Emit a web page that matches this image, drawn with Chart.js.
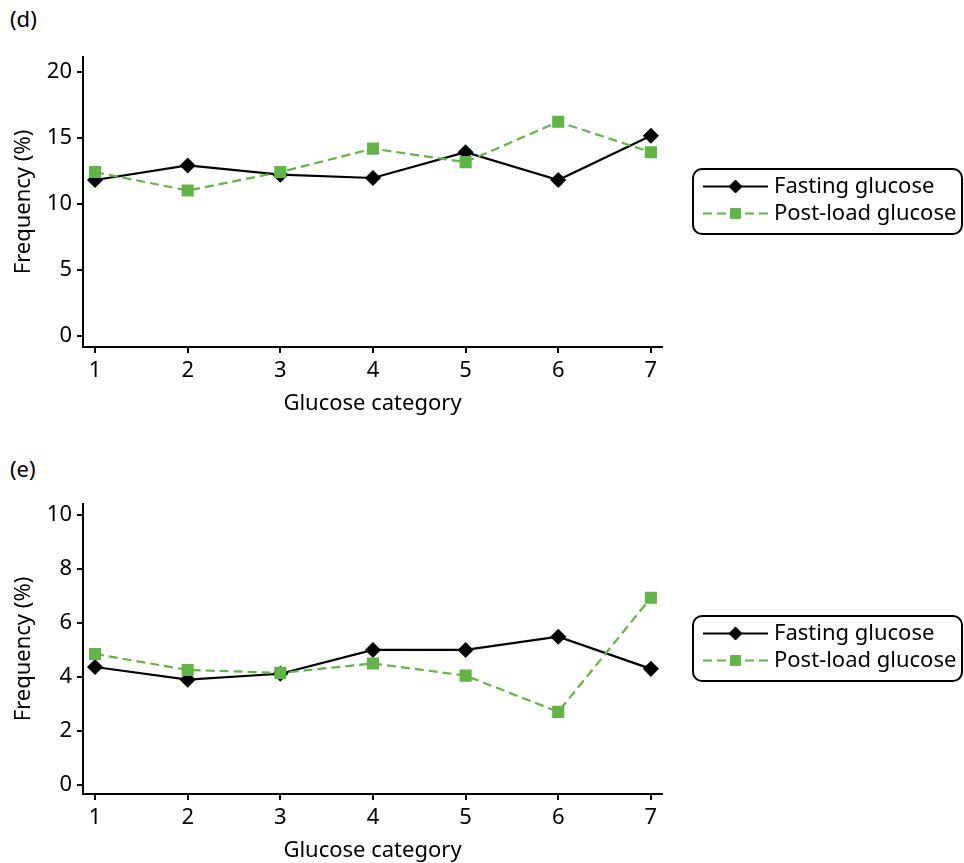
<!DOCTYPE html>
<html>
<head>
<meta charset="utf-8">
<script src="https://cdn.jsdelivr.net/npm/chart.js@4/dist/chart.umd.min.js"></script>
<style>
  html, body { margin: 0; padding: 0; background: #fff; }
  body { width: 964px; height: 863px; position: relative; overflow: hidden; font-family: 'Noto Sans', sans-serif; }
  .panel-label { position: absolute; left: 10px; font-size: 22px; line-height: 26px; color: #000; }
  .chart-box { position: absolute; left: 0; width: 964px; height: 416px; }
</style>
</head>
<body>
<div class="panel-label" style="top:5px">(d)</div>
<div class="panel-label" style="top:455px">(e)</div>
<div class="chart-box" style="top:0"><canvas id="chartD"></canvas></div>
<div class="chart-box" style="top:447px"><canvas id="chartE"></canvas></div>

<script>
// ---- data ----
const categories = [1, 2, 3, 4, 5, 6, 7];
const seriesNames = ['Fasting glucose', 'Post-load glucose'];

const fastingD  = [11.8, 12.9, 12.2, 11.95, 13.9, 11.8, 15.15];
const postLoadD = [12.4, 11.0, 12.4, 14.17, 13.15, 16.2, 13.9];
const yTicksD   = [0, 5, 10, 15, 20];

const fastingE  = [4.37, 3.9, 4.12, 5.0, 5.0, 5.49, 4.3];
const postLoadE = [4.85, 4.26, 4.15, 4.5, 4.05, 2.71, 6.93];
const yTicksE   = [0, 2, 4, 6, 8, 10];

const green = '#62b446';
const black = '#000000';

Chart.defaults.font.family = "'Noto Sans', sans-serif";
Chart.defaults.font.size = 22;
Chart.defaults.color = '#000';

const toPoints = (vals) => categories.map((c, i) => ({ x: c, y: vals[i] }));

// legend drawn inside a rounded box, right of the plot
const boxLegend = {
    id: 'boxLegend',
    afterDraw(chart, args, opts) {
        const ctx = chart.ctx;
        const { x, y, w, h, r, rowY, lineX0, lineX1, textX } = opts;
        ctx.save();
        ctx.lineWidth = 2;
        ctx.strokeStyle = '#000';
        ctx.beginPath();
        ctx.roundRect(x, y, w, h, r);
        ctx.stroke();
        chart.data.datasets.forEach((ds, i) => {
            const ry = rowY[i];
            ctx.save();
            ctx.strokeStyle = ds.borderColor;
            ctx.lineWidth = ds.borderWidth;
            ctx.setLineDash(ds.borderDash || []);
            ctx.beginPath();
            ctx.moveTo(lineX0, ry);
            ctx.lineTo(lineX1, ry);
            ctx.stroke();
            ctx.restore();
            ctx.save();
            ctx.fillStyle = ds.pointBackgroundColor;
            ctx.strokeStyle = ds.pointBorderColor;
            ctx.lineWidth = 1;
            Chart.helpers.drawPoint(ctx, { pointStyle: ds.pointStyle, radius: ds.pointRadius, rotation: 0, borderWidth: 1 }, (lineX0 + lineX1) / 2, ry);
            ctx.restore();
            ctx.fillStyle = '#000';
            ctx.font = "22px 'Noto Sans', sans-serif";
            ctx.textBaseline = 'middle';
            ctx.textAlign = 'left';
            ctx.fillText(ds.label, textX, ry);
        });
        ctx.restore();
    }
};

const makeChart = (id, fasting, postLoad, yTicks, yMin, yMax) => {
    return new Chart(document.getElementById(id), {
        type: 'line',
        data: {
            datasets: [
                {
                    label: seriesNames[0],
                    data: toPoints(fasting),
                    borderColor: black, borderWidth: 2.2,
                    pointStyle: 'rectRot', pointRadius: 6.5,
                    pointBackgroundColor: black, pointBorderColor: black,
                    tension: 0, order: 2
                },
                {
                    label: seriesNames[1],
                    data: toPoints(postLoad),
                    borderColor: green, borderWidth: 2.2, borderDash: [9, 5],
                    pointStyle: 'rect', pointRadius: 7,
                    pointBackgroundColor: green, pointBorderColor: green,
                    tension: 0, order: 1
                }
            ]
        },
        options: {
            responsive: true, maintainAspectRatio: false, animation: false,
            layout: { padding: { top: 57, right: 302, left: 0, bottom: 0 } },
            plugins: {
                legend: { display: false },
                tooltip: { enabled: false },
                boxLegend: {
                    x: 693, y: 169, w: 269, h: 65, r: 9,
                    rowY: [186.5, 213.5], lineX0: 703, lineX1: 768, textX: 774
                }
            },
            scales: {
                x: {
                    type: 'linear', min: 0.87, max: 7.12,
                    afterBuildTicks: (s) => { s.ticks = categories.map(v => ({ value: v })); },
                    afterFit: (s) => { s.height = 69; },
                    grid: { drawOnChartArea: false, tickLength: 6, color: black, lineWidth: 2 },
                    border: { display: true, color: black, width: 2 },
                    ticks: { padding: 5, maxRotation: 0, autoSkip: false },
                    title: { display: true, text: 'Glucose category', padding: { top: 0, bottom: -1 } }
                },
                y: {
                    type: 'linear', min: yMin, max: yMax,
                    afterBuildTicks: (s) => { s.ticks = yTicks.map(v => ({ value: v })); },
                    afterFit: (s) => { s.width = 83; },
                    grid: { drawOnChartArea: false, tickLength: 6, color: black, lineWidth: 2 },
                    border: { display: true, color: black, width: 2 },
                    ticks: { padding: 5 },
                    title: { display: true, text: 'Frequency (%)', padding: { top: 11, bottom: 0 } }
                }
            }
        },
        plugins: [boxLegend]
    });
};

makeChart('chartD', fastingD, postLoadD, yTicksD, -0.83, 21.1);
makeChart('chartE', fastingE, postLoadE, yTicksE, -0.33, 10.4);
</script>
</body>
</html>
